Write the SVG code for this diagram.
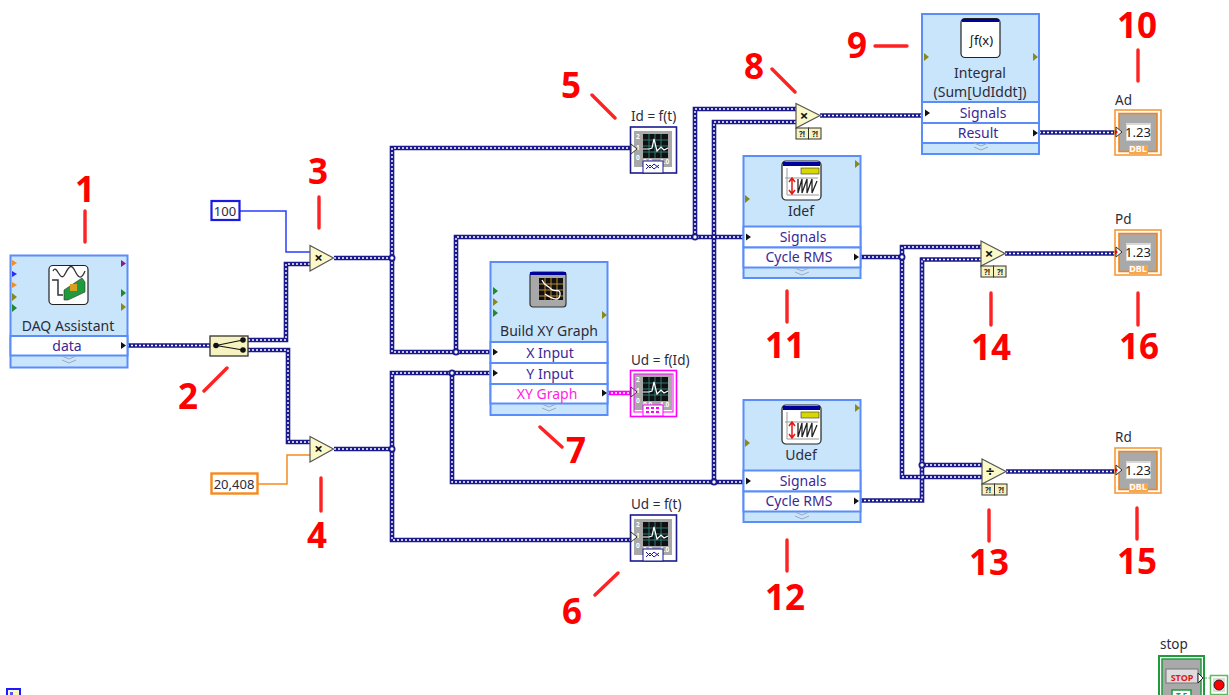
<svg xmlns="http://www.w3.org/2000/svg" width="1229" height="695" viewBox="0 0 1229 695">
<style>
text{font-family:"Noto Sans","Open Sans","Liberation Sans",sans-serif;font-size:14px;fill:#2b2b3a}
.c{text-anchor:middle}
.row{fill:#3a2a96}
.box{fill:#c9e5fb;stroke:#5b8dfa;stroke-width:2}
.rw{fill:#fff;stroke:#5b8dfa;stroke-width:2}
.wb{fill:none;stroke:#1a1a8e;stroke-width:4.6}
.wd{fill:none;stroke:#fff;stroke-width:1.4;stroke-dasharray:2 2}
.thin{fill:none;stroke-width:1.5}
.tri{fill:#fbf9c8;stroke:#555;stroke-width:1.2}
.op{font-size:15px;font-weight:700;fill:#111}
.q{fill:#f6f3c0;stroke:#333;stroke-width:1}
.qt{font-size:8px;font-weight:700;fill:#222}
.icon{fill:#fff;stroke:#222;stroke-width:1.2}
.num{font-family:"Open Sans","Liberation Sans",sans-serif;font-size:35px;font-weight:700;fill:#f00;text-anchor:middle}
.mark{stroke:#f22;stroke-width:3.4;stroke-linecap:round;fill:none}
.v{font-size:13px;fill:#222}
.dbl{font-size:9px;font-weight:700;fill:#fff;text-anchor:middle}
.tiny{font-size:6.5px;font-weight:700;fill:#fff}
</style>
<defs>
<marker id="h" markerWidth="1" markerHeight="1"/>
<path id="k" d="M0-3.5 5 0 0 3.5Z" fill="#111"/>
<path id="ol" d="M0-4 5 0 0 4Z" fill="#8a8a1a"/>
<path id="gr" d="M0-4 5 0 0 4Z" fill="#1e8a2e"/>
<path id="chev" d="M-7-3 0 0 7-3M-7 1 0 4 7 1" fill="none" stroke="#9ab" stroke-width="1"/>
<g id="qq"><rect class="q" x="0" y="0" width="12.5" height="11"/><rect class="q" x="12.5" y="0" width="12.5" height="11"/></g>
<g id="plot">
<rect x="4" y="4" width="38" height="36" fill="#a8a8a8"/>
<rect x="13" y="7" width="25" height="24" fill="#111"/>
<path d="M13 13H38M13 19H38M13 25H38M19 7V31M25 7V31M31 7V31" stroke="#2b7a78" stroke-width="1" fill="none"/>
<path d="M13 22H19L22 21 24 12 27 24 31 20 34 23 38 21" stroke="#fff" stroke-width="1.2" fill="none"/>
<text class="tiny" x="6" y="12">2</text><text class="tiny" x="6" y="23">1</text><text class="tiny" x="6" y="33">0</text>
<text class="tiny" x="13" y="37">0.0</text><text class="tiny" x="30" y="37">1.0</text>
<path d="M1 17 7 22 1 27Z" fill="#fff" stroke="#333"/>
</g>
<g id="xyplot">
<rect x="3" y="3" width="36" height="35" rx="3" fill="#a8a8a8" stroke="#333" stroke-width="1.2"/>
<rect x="3" y="3" width="36" height="3" fill="#00009a"/>
<rect x="12" y="9" width="24" height="22" fill="#111"/>
<path d="M12 15H36M12 21H36M12 27H36M18 9V31M24 9V31M30 9V31" stroke="#c08a30" stroke-width="1" fill="none"/>
<path d="M15 11C18 18 21 16 24 20S34 18 33 26 22 28 18 25" stroke="#fff" stroke-width="1.3" fill="none"/>
</g>
<g id="tone">
<rect class="icon" x="0" y="0" width="39" height="39" rx="4"/>
<rect x="1" y="1" width="37" height="4" fill="#00009a"/>
<rect x="19" y="7" width="18" height="6" fill="#d8d800" stroke="#333" stroke-width=".6"/>
<path d="M5 7V34H37M3 17H36" stroke="#999" stroke-width="1" fill="none"/>
<path d="M10 18V32M7 21 10 17 13 21M7 29 10 33 13 29" stroke="#e01818" stroke-width="1.5" fill="none"/>
<path d="M16 18V32L20 18V32L25 18V32L30 18V32L35 20" stroke="#222" stroke-width="1.3" fill="none"/>
</g>
<g id="ind">
<rect x="0" y="0" width="46" height="45" fill="#fff" stroke="#f79a3a" stroke-width="1.6"/>
<rect x="4" y="3.500" width="38" height="38" fill="#a9a9a9" stroke="#f0851c" stroke-width="1.6"/>
<rect x="11" y="13" width="25" height="18" fill="#d8d8d8"/>
<rect x="12" y="15" width="23" height="15" fill="#fff"/>
<rect x="14" y="35" width="19" height="9" fill="#f7a648"/>
<path d="M1 17 7 22 1 27Z" fill="#fff" stroke="#333"/>
<path d="M0 19.500 3 22 0 24.500Z" fill="#f00"/>
</g>
</defs>
<rect width="1229" height="695" fill="#fff"/>

<g id="connectors">
<path class="thin" stroke="#2a3cff" d="M239 211H286V252H310"/>
<path class="thin" stroke="#f58a1f" d="M258 484H287V455H310"/>
<path fill="none" stroke="#f0f" stroke-width="4.600" d="M607 393H633"/>
<path fill="none" stroke="#fff" stroke-width="1.400" stroke-dasharray="2 2" d="M607 393H633"/>
<path d="M1198 678H1210" fill="none" stroke="#5c9a5c" stroke-dasharray="2 1.500"/>
<g class="wb"><g id="wires">
<path d="M127 345.500H210"/>
<path d="M248 340H286V264H310"/>
<path d="M248 350H288V442H310"/>
<path d="M334 258H392"/>
<path d="M392 258V148H631"/>
<path d="M392 258V352H491"/>
<path d="M456 352V237H744"/>
<path d="M695 237V109H796"/>
<path d="M334 449H392"/>
<path d="M392 449V373H491"/>
<path d="M392 449V540H631"/>
<path d="M452 373V482H744"/>
<path d="M714 482V122H796"/>
<path d="M820 115.500H922"/>
<path d="M1039 132.500H1115"/>
<path d="M860 257H902"/>
<path d="M902 257V247H981"/>
<path d="M902 257V477H982"/>
<path d="M860 500.500H922V259.500H981"/>
<path d="M922 465H982"/>
<path d="M1005 253.500H1115"/>
<path d="M1006 471.500H1115"/>
</g></g>
<use href="#wires" class="wd"/>
<g fill="#fff" stroke="#1a1a8e" stroke-width="1.800">
<circle cx="392" cy="258" r="2.600"/><circle cx="392" cy="449" r="2.600"/>
<circle cx="456" cy="352" r="2.600"/><circle cx="452" cy="373" r="2.600"/>
<circle cx="695" cy="237" r="2.600"/><circle cx="714" cy="482" r="2.600"/>
<circle cx="902" cy="257" r="2.600"/><circle cx="922" cy="465" r="2.600"/>
</g>
</g>

<g id="daq">
<rect class="box" x="10.500" y="255.500" width="117" height="112"/>
<rect class="rw" x="10.500" y="336" width="117" height="19.500"/>
<rect class="icon" x="49" y="265.500" width="39" height="39" rx="4"/>
<path d="M53 270C57 262 60 283 65 273S72 264 75 270 81 280 85 270" stroke="#333" stroke-width="1.300" fill="none" transform="translate(0,1)"/>
<path d="M52 280H58V295H63" stroke="#333" stroke-width="1.500" fill="none"/>
<path d="M64 290 82 278 85 282V292L68 300H64Z" fill="#1f9b3c" stroke="#333" stroke-width=".6"/>
<rect x="70" y="284" width="7" height="7" fill="#d8a020"/>
<text class="c" x="68" y="331">DAQ Assistant</text>
<text class="c row" x="67" y="351">data</text>
<use href="#chev" x="69" y="359"/>
<path d="M12 260l5 3-5 3Z" fill="#f58a1f"/><path d="M12 271l5 3-5 3Z" fill="#2a2aff"/><path d="M12 282l5 3-5 3Z" fill="#f58a1f"/>
<use href="#ol" x="12" y="297"/><use href="#gr" x="12" y="308"/>
<path d="M121 260l5 3.500-5 3.500Z" fill="#8a1a96"/><use href="#gr" x="121" y="293"/><use href="#ol" x="121" y="307"/>
<use href="#k" x="121" y="345.500"/>
</g>

<g id="split">
<rect x="210" y="336" width="38" height="20" fill="#f6f3c0" stroke="#333" stroke-width="1.300"/>
<path d="M216 345.500 243 340M216 345.500 243 350" stroke="#111" stroke-width="1.200" fill="none"/>
<circle cx="216" cy="345.500" r="2.800" fill="#111"/><circle cx="243" cy="340" r="2.800" fill="#111"/><circle cx="243" cy="350" r="2.800" fill="#111"/>
</g>

<g id="c100"><rect x="211.500" y="201" width="28" height="19" fill="#fff" stroke="#1a1ae0" stroke-width="2.200"/><text class="c" x="225" y="216" style="font-size:13px">100</text></g>
<g id="c20"><rect x="211.500" y="473.500" width="46" height="20" fill="#fff" stroke="#f58a1f" stroke-width="2.400"/><text class="c" x="234" y="489" style="font-size:13px">20,408</text></g>

<g id="mul3"><path class="tri" d="M310 245.500 333.500 258 310 271Z"/><text class="c op" x="318.500" y="263">×</text></g>
<g id="mul4"><path class="tri" d="M310 436.500 333.500 449 310 462Z"/><text class="c op" x="318.500" y="454">×</text></g>

<g id="idft"><rect x="630.500" y="127" width="46" height="46" fill="#fff" stroke="#1a1a8e" stroke-width="1.600"/><use href="#plot" x="630" y="127"/><rect x="643" y="161" width="20" height="12" fill="#fff" stroke="#1a1a8e"/><path d="M646 164 650 168 654 164 659 168M646 169 650 165 654 169 659 165" stroke="#1a1a8e" fill="none"/><text x="631" y="121" style="font-size:13.500px">Id = f(t)</text></g>
<g id="udft"><rect x="630.500" y="515" width="46" height="46" fill="#fff" stroke="#1a1a8e" stroke-width="1.600"/><use href="#plot" x="630" y="515"/><rect x="643" y="549" width="20" height="12" fill="#fff" stroke="#1a1a8e"/><path d="M646 552 650 556 654 552 659 556M646 557 650 553 654 557 659 553" stroke="#1a1a8e" fill="none"/><text x="631" y="509" style="font-size:13.500px">Ud = f(t)</text></g>

<g id="xy">
<rect class="box" x="490.500" y="262" width="117" height="153"/>
<rect class="rw" x="490.500" y="342" width="117" height="21"/>
<rect class="rw" x="490.500" y="363" width="117" height="21"/>
<rect class="rw" x="490.500" y="384" width="117" height="19.500"/>
<use href="#xyplot" x="527" y="269"/>
<text class="c" x="549" y="336">Build XY Graph</text>
<text class="c row" x="550" y="358">X Input</text>
<text class="c row" x="550" y="379">Y Input</text>
<text class="c" x="547" y="399" style="fill:#ff1ee0">XY Graph</text>
<use href="#chev" x="549" y="407"/>
<use href="#gr" x="493" y="291"/><use href="#ol" x="493" y="302"/><use href="#gr" x="493" y="313"/><use href="#ol" x="602" y="315"/>
<use href="#k" x="493" y="352"/><use href="#k" x="493" y="373"/><use href="#k" x="602" y="393"/>
</g>

<g id="udfid"><rect x="630.500" y="370.500" width="46" height="46" fill="#fff" stroke="#f0f" stroke-width="1.600"/><use href="#plot" x="630" y="370"/><rect x="634" y="374" width="39" height="38" fill="none" stroke="#f0f"/><path d="M636 400H672" stroke="none"/><rect x="643" y="405" width="20" height="11" fill="#fff" stroke="#f0f"/><path d="M646 408H660M646 412H660" stroke="#f0f" stroke-width="2" stroke-dasharray="3 2" fill="none"/><text x="631" y="365" style="font-size:13.500px">Ud = f(Id)</text></g>

<g id="mul8"><path class="tri" d="M796 103.500 820 115.500 796 128Z"/><text class="c op" x="804" y="120.500">×</text><use href="#qq" x="796" y="128"/><text class="c qt" x="802" y="137">?!</text><text class="c qt" x="815" y="137">?!</text></g>

<g id="integral">
<rect class="box" x="922" y="14" width="117" height="140"/>
<rect class="rw" x="922" y="102" width="117" height="21"/>
<rect class="rw" x="922" y="123" width="117" height="20"/>
<rect class="icon" x="961" y="18.500" width="39" height="39" rx="4"/>
<rect x="962" y="19" width="37" height="3" fill="#00009a"/>
<text class="c" x="981" y="45" style="font-size:13px;fill:#111">∫f(x)</text>
<text class="c" x="980" y="78">Integral</text>
<text class="c" x="980" y="97">(Sum[UdIddt])</text>
<text class="c row" x="983" y="118">Signals</text>
<text class="c row" x="978" y="138">Result</text>
<use href="#chev" x="981" y="146"/>
<use href="#ol" x="924" y="57"/><use href="#ol" x="1033" y="57"/>
<use href="#k" x="925" y="113"/><use href="#k" x="1033" y="133"/>
</g>

<g id="ad"><use href="#ind" x="1115" y="110"/><text class="c v" x="1138" y="137">1.23</text><text class="dbl" x="1138" y="152">DBL</text><text x="1115" y="105" style="font-size:13.500px">Ad</text></g>
<g id="pd"><use href="#ind" x="1115" y="230"/><text class="c v" x="1138" y="257">1.23</text><text class="dbl" x="1138" y="272">DBL</text><text x="1115" y="224" style="font-size:13.500px">Pd</text></g>
<g id="rd"><use href="#ind" x="1115" y="448"/><text class="c v" x="1138" y="475">1.23</text><text class="dbl" x="1138" y="490">DBL</text><text x="1115" y="442" style="font-size:13.500px">Rd</text></g>

<g id="idef">
<rect class="box" x="743.500" y="156" width="117" height="122"/>
<rect class="rw" x="743.500" y="226.500" width="117" height="21"/>
<rect class="rw" x="743.500" y="247.500" width="117" height="20"/>
<use href="#tone" x="782" y="161"/>
<text class="c" x="801" y="216">Idef</text>
<text class="c row" x="803" y="242">Signals</text>
<text class="c row" x="799" y="262">Cycle RMS</text>
<use href="#chev" x="802" y="271"/>
<use href="#ol" x="855" y="164"/><use href="#ol" x="745" y="199"/>
<use href="#k" x="746" y="237"/><use href="#k" x="854" y="257"/>
</g>
<g id="udef">
<rect class="box" x="743.500" y="400" width="117" height="122"/>
<rect class="rw" x="743.500" y="470.500" width="117" height="21"/>
<rect class="rw" x="743.500" y="491.500" width="117" height="20"/>
<use href="#tone" x="782" y="405"/>
<text class="c" x="801" y="460">Udef</text>
<text class="c row" x="803" y="486">Signals</text>
<text class="c row" x="799" y="506">Cycle RMS</text>
<use href="#chev" x="802" y="515"/>
<use href="#ol" x="855" y="408"/><use href="#ol" x="745" y="443"/>
<use href="#k" x="746" y="481"/><use href="#k" x="854" y="501"/>
</g>

<g id="mul14"><path class="tri" d="M981 241 1005 253.500 981 266Z"/><text class="c op" x="989" y="258.500">×</text><use href="#qq" x="981" y="266"/><text class="c qt" x="987" y="275">?!</text><text class="c qt" x="1000" y="275">?!</text></g>
<g id="div13"><path class="tri" d="M982 459 1006 471.500 982 484Z"/><text class="c op" x="990" y="476.500">÷</text><use href="#qq" x="982" y="484"/><text class="c qt" x="988" y="493">?!</text><text class="c qt" x="1001" y="493">?!</text></g>

<g id="stop">
<text x="1160" y="649" style="font-size:13.500px">stop</text>
<rect x="1159" y="656" width="45" height="45" fill="#fff" stroke="#1f9b3c" stroke-width="2"/>
<rect x="1162" y="659" width="39" height="40" fill="#a9a9a9" stroke="#1f9b3c" stroke-width="1.500"/>
<rect x="1166" y="669" width="32" height="14" fill="#ddd" stroke="#777"/>
<text class="c" x="1182" y="681" style="font-size:9px;font-weight:700;fill:#e01818">STOP</text>
<path d="M1198 673 1203 678 1198 683Z" fill="#fff" stroke="#222"/>
<rect x="1172" y="690" width="19" height="10" fill="#fff" stroke="#1f9b3c" stroke-width="1.500"/>
<text class="c" x="1181.500" y="699" style="font-size:8px;font-weight:700;fill:#1f9b3c">T F</text>
</g>
<g id="cond"><rect x="1210.500" y="675.500" width="17" height="19" fill="#fff" stroke="#5dbb5d" stroke-width="1.500"/><rect x="1213" y="678" width="12" height="14" fill="#ddd"/><circle cx="1219" cy="685" r="5" fill="#f00" stroke="#222"/></g>
<g id="corner"><rect x="7" y="689" width="13" height="8" fill="#fdf6c0" stroke="#1a1aff" stroke-width="2"/><rect x="10" y="692" width="3" height="3" fill="#55f"/></g>

<g id="annotations">
<path class="mark" d="M85 211V242M204 391 227 368M319 197V228M321 478V511M592 95 615 118M595 595 618 573M540 427 562 447M772 69 795 92M875 46H907M1138 50V81M787 291V322M787 540V571M989 510V541M991 293V325M1137 508V539M1138 293V325"/>
<text class="num" x="85" y="202">1</text>
<text class="num" x="188" y="409">2</text>
<text class="num" x="318" y="184">3</text>
<text class="num" x="317" y="548">4</text>
<text class="num" x="571" y="98">5</text>
<text class="num" x="572" y="624">6</text>
<text class="num" x="576" y="463">7</text>
<text class="num" x="754" y="79">8</text>
<text class="num" x="857" y="58">9</text>
<text class="num" x="1137" y="38">10</text>
<text class="num" x="785" y="358">11</text>
<text class="num" x="785" y="610">12</text>
<text class="num" x="989" y="575">13</text>
<text class="num" x="991" y="360">14</text>
<text class="num" x="1137" y="574">15</text>
<text class="num" x="1139" y="359">16</text>
</g>
</svg>
